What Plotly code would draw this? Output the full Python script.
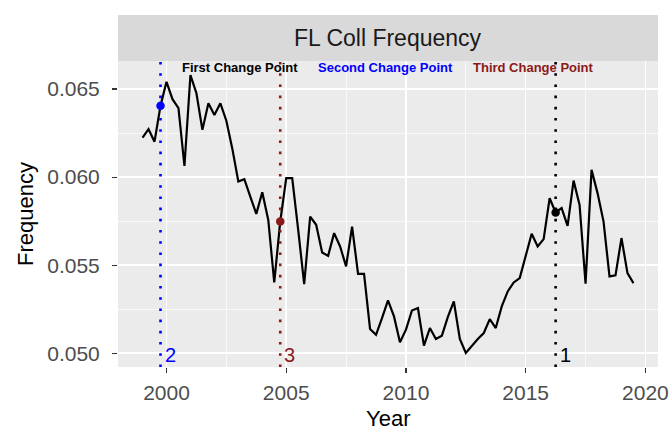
import plotly.graph_objects as go

# ---- data (quarterly, starting 1999 Q1) ----
start_year = 1999
quarter_step = 0.25
freq = [
    0.06224, 0.06272, 0.06201, 0.06405, 0.06541, 0.06442, 0.06391, 0.06063,
    0.06579, 0.06476, 0.06268, 0.06419, 0.06353, 0.06419, 0.06320, 0.06160,
    0.05975, 0.05988, 0.05889, 0.05791, 0.05914, 0.05757, 0.05402, 0.05748,
    0.05994, 0.05994, 0.05700, 0.05393, 0.05776, 0.05729, 0.05572, 0.05553,
    0.05682, 0.05606, 0.05493, 0.05719, 0.05451, 0.05451, 0.05138, 0.05105,
    0.05200, 0.05300, 0.05209, 0.05062, 0.05134, 0.05243, 0.05257, 0.05043,
    0.05143, 0.05081, 0.05100, 0.05206, 0.05294, 0.05081, 0.05002, 0.05043,
    0.05081, 0.05115, 0.05194, 0.05143, 0.05266, 0.05351, 0.05402, 0.05427,
    0.05553, 0.05678, 0.05606, 0.05648, 0.05880, 0.05799, 0.05824, 0.05723,
    0.05980, 0.05842, 0.05395, 0.06041, 0.05909, 0.05748, 0.05436, 0.05442,
    0.05654, 0.05455, 0.05398,
]
years = [start_year + quarter_step * i for i in range(len(freq))]

cp_years = [2016.25, 1999.75, 2004.75]
cp_labels = ["1", "2", "3"]
cp_colors = ["black", "blue", "#8B1A1A"]

header_texts = ["First Change Point", "Second Change Point", "Third Change Point"]
header_years = [2003.08, 2009.15, 2015.33]
header_colors = ["black", "blue", "#8B1A1A"]
header_level = 0.06622
label_level = 0.0500

x_ticks = [2000, 2005, 2010, 2015, 2020]
y_ticks = [0.050, 0.055, 0.060, 0.065]
y_tick_text = ["0.050", "0.055", "0.060", "0.065"]

strip_title = "FL Coll Frequency"
x_title = "Year"
y_title = "Frequency"

# ---- layout geometry ----
W, H = 672, 431
m_l, m_r, m_t, m_b = 118, 14, 15, 64
panel_top_px = 61
plot_w = W - m_l - m_r
plot_h = H - m_t - m_b
panel_frac = (H - m_b - panel_top_px) / plot_h


def px_x(px):
    return (px - m_l) / plot_w


def px_y(py):
    return (H - m_b - py) / plot_h


FONT = "Liberation Sans, Arial, sans-serif"
TICK_SIZE = 21
TITLE_SIZE = 22

fig = go.Figure()

# change point vertical dotted lines
for cy, col in zip(cp_years, cp_colors):
    fig.add_shape(type="line", xref="x", yref="y domain", x0=cy, x1=cy, y0=0, y1=1,
                  line=dict(color=col, width=2.6, dash="2.6px,8.6px"), layer="above")

# main series
fig.add_trace(go.Scatter(x=years, y=freq, mode="lines",
                         line=dict(color="black", width=2.2), showlegend=False,
                         hoverinfo="skip"))

# change point markers (values taken from the series)
for cy, col in zip(cp_years, cp_colors):
    idx = years.index(cy)
    fig.add_trace(go.Scatter(x=[cy], y=[freq[idx]], mode="markers",
                             marker=dict(color=col, size=8.5), showlegend=False,
                             hoverinfo="skip"))

# header labels
for t, hx, col in zip(header_texts, header_years, header_colors):
    fig.add_annotation(x=hx, y=header_level, xref="x", yref="y", text="<b>%s</b>" % t,
                       showarrow=False, font=dict(family=FONT, size=13, color=col),
                       xanchor="center", yanchor="middle")

# numbered labels at the bottom
for cy, lab, col in zip(cp_years, cp_labels, cp_colors):
    fig.add_annotation(x=cy, y=label_level, xref="x", yref="y", text=lab,
                       showarrow=False, font=dict(family=FONT, size=20, color=col),
                       xanchor="left", yanchor="middle", xshift=2, yshift=-2)

# facet strip
fig.add_shape(type="rect", xref="paper", yref="paper", x0=0, x1=1, y0=panel_frac, y1=1,
              fillcolor="#D9D9D9", line=dict(width=0), layer="below")
fig.add_annotation(xref="paper", yref="paper", x=0.5, y=(panel_frac + 1) / 2,
                   text=strip_title, showarrow=False,
                   font=dict(family=FONT, size=23, color="#1A1A1A"),
                   xanchor="center", yanchor="middle")

# axis titles
fig.add_annotation(xref="paper", yref="paper", x=px_x(388), y=px_y(418), text=x_title,
                   showarrow=False, font=dict(family=FONT, size=TITLE_SIZE, color="black"),
                   xanchor="center", yanchor="middle")
fig.add_annotation(xref="paper", yref="paper", x=px_x(25), y=px_y(214), text=y_title,
                   showarrow=False, textangle=-90,
                   font=dict(family=FONT, size=TITLE_SIZE, color="black"),
                   xanchor="center", yanchor="middle")

fig.update_layout(
    width=W, height=H,
    margin=dict(l=m_l, r=m_r, t=m_t, b=m_b, pad=0, autoexpand=False),
    paper_bgcolor="white", plot_bgcolor="#EBEBEB",
    font=dict(family=FONT, size=TICK_SIZE, color="#4D4D4D"),
    showlegend=False,
    xaxis=dict(
        range=[1997.975, 2020.525], tickvals=x_ticks, ticks="outside", ticklen=5,
        tickwidth=1.1, tickcolor="#333333", showgrid=True, gridcolor="white",
        gridwidth=1.6, zeroline=False, showline=False, automargin=False,
        tickfont=dict(family=FONT, size=TICK_SIZE, color="#4D4D4D"),
        ticklabelstandoff=2,
        minor=dict(tick0=2002.5, dtick=5, showgrid=True, gridcolor="white", gridwidth=0.7),
    ),
    yaxis=dict(
        domain=[0, panel_frac],
        range=[0.04922, 0.06659], tickvals=y_ticks, ticktext=y_tick_text,
        ticks="outside", ticklen=5, tickwidth=1.1, tickcolor="#333333",
        showgrid=True, gridcolor="white", gridwidth=1.6, zeroline=False, showline=False,
        automargin=False, ticklabelstandoff=8,
        tickfont=dict(family=FONT, size=TICK_SIZE, color="#4D4D4D"),
        minor=dict(tick0=0.0525, dtick=0.005, showgrid=True, gridcolor="white", gridwidth=0.7),
    ),
)

fig.write_html(
    "out.html",
    config={"displayModeBar": False, "staticPlot": True},
    post_script="document.body.style.margin='0';document.body.style.overflow='hidden';",
)
